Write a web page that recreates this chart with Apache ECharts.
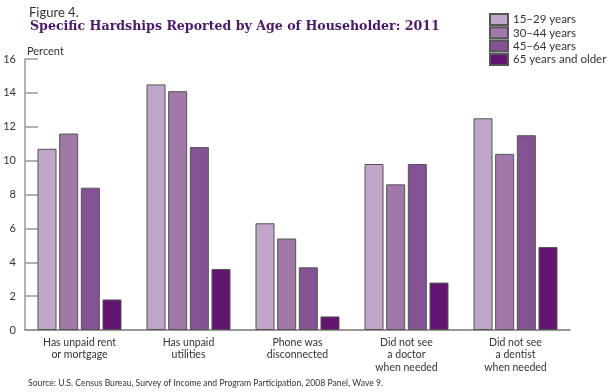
<!DOCTYPE html>
<html><head><meta charset="utf-8">
<script src="https://cdn.jsdelivr.net/npm/echarts@6/dist/echarts.min.js"></script>
<style>html,body{margin:0;padding:0;background:#fff}#c{width:608px;height:392px}</style>
</head><body><div id="c"></div>
<script>
const categories = ["Has unpaid rent\nor mortgage", "Has unpaid\nutilities", "Phone was\ndisconnected", "Did not see\na doctor\nwhen needed", "Did not see\na dentist\nwhen needed"];
const seriesNames = ["15–29 years", "30–44 years", "45–64 years", "65 years and older"];
const age15to29 = [10.7, 14.5, 6.3, 9.8, 12.5];
const age30to44 = [11.6, 14.1, 5.4, 8.6, 10.4];
const age45to64 = [8.4, 10.8, 3.7, 9.8, 11.5];
const age65plus = [1.8, 3.6, 0.8, 2.8, 4.9];
const yTicks = [0, 2, 4, 6, 8, 10, 12, 14, 16];

const colors = ["#C0A6C8", "#A079A8", "#855393", "#621470"];
const values = [age15to29, age30to44, age45to64, age65plus];
const font = "Lato, 'Open Sans', sans-serif";

const chart = echarts.init(document.getElementById('c'), null, {renderer: 'canvas'});
chart.setOption({
  animation: false,
  textStyle: {fontFamily: font},
  title: [
    {text: "Figure 4.", left: 24, top: 1, textStyle: {fontSize: 13, fontWeight: 'normal', color: '#333', fontFamily: font}},
    {text: "Specific Hardships Reported by Age of Householder: 2011", left: 25, top: 15,
     textStyle: {fontSize: 12.6, fontWeight: 'bold', color: '#4A1868', fontFamily: "'DejaVu Serif', serif"}},
    {text: "Percent", left: 22, top: 41, textStyle: {fontSize: 11, fontWeight: 'normal', color: '#333', fontFamily: font}},
    {text: "Source: U.S. Census Bureau, Survey of Income and Program Participation, 2008 Panel, Wave 9.", left: 23, top: 374,
     textStyle: {fontSize: 8.6, fontWeight: 'normal', color: '#333', fontFamily: font}}
  ],
  legend: {
    orient: 'vertical', left: 489, top: 13, padding: 0, itemWidth: 18, itemHeight: 11, itemGap: 0.3,
    icon: 'rect',
    textStyle: {fontSize: 11.5, color: '#333', fontFamily: font, lineHeight: 11},
    data: seriesNames
  },
  grid: {left: 25, right: 38, top: 59, bottom: 62},
  xAxis: {
    type: 'category', data: categories,
    axisLine: {lineStyle: {color: '#777', width: 1.5}},
    axisTick: {show: false},
    axisLabel: {fontSize: 10.5, color: '#333', lineHeight: 12.5, margin: 6, interval: 0}
  },
  yAxis: {
    type: 'value', min: 0, max: 16, interval: 2,
    axisLine: {show: true, lineStyle: {color: '#999', width: 1.5}},
    axisTick: {show: true, inside: true, length: 13, lineStyle: {color: '#999', width: 1.5}},
    splitLine: {show: false},
    axisLabel: {fontSize: 11, color: '#333', margin: 9,
      formatter: v => yTicks.includes(v) ? String(v) : ''}
  },
  series: values.map((d, i) => ({
    name: seriesNames[i], type: 'bar', data: d,
    barWidth: 19, barGap: '14%',
    itemStyle: {color: colors[i], borderColor: '#555', borderWidth: 1}
  }))
});
</script></body></html>
